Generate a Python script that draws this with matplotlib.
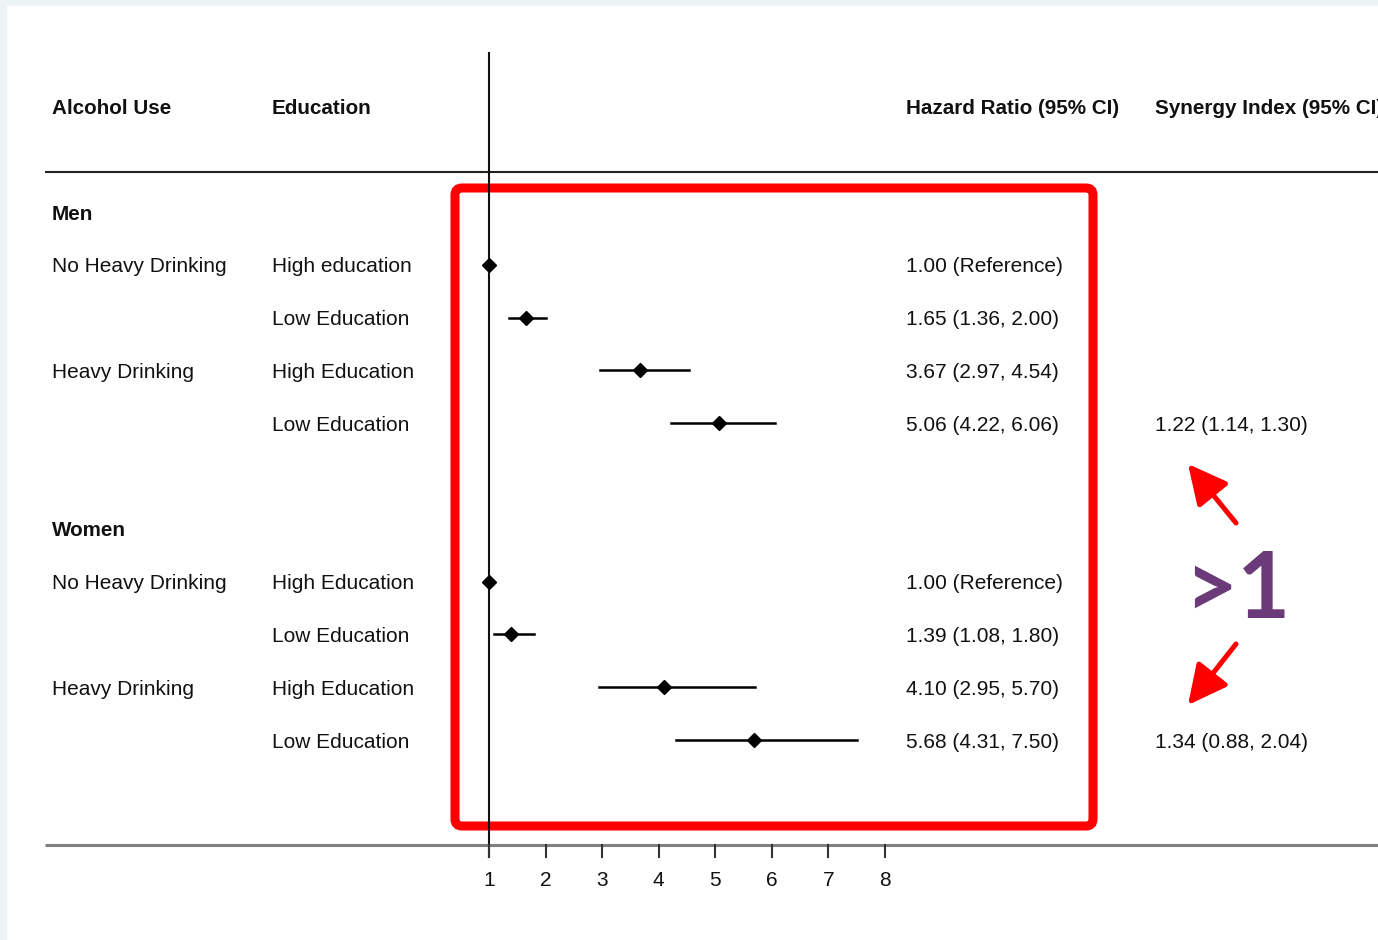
import matplotlib
matplotlib.use("Agg")
import matplotlib.pyplot as plt
import matplotlib.transforms as mtransforms
from matplotlib.patches import FancyBboxPatch, Rectangle, FancyArrowPatch

W, H = 1378, 940

# ---- data ----
groups = ["Men", "Women"]
alcohol_use = ["No Heavy Drinking", "", "Heavy Drinking", ""]
education = [
    ["High education", "Low Education", "High Education", "Low Education"],
    ["High Education", "Low Education", "High Education", "Low Education"],
]
hr = [[1.00, 1.65, 3.67, 5.06], [1.00, 1.39, 4.10, 5.68]]
hr_lo = [[1.00, 1.36, 2.97, 4.22], [1.00, 1.08, 2.95, 4.31]]
hr_hi = [[1.00, 2.00, 4.54, 6.06], [1.00, 1.80, 5.70, 7.50]]
synergy = [(1.22, 1.14, 1.30), (1.34, 0.88, 2.04)]
xticks = [1, 2, 3, 4, 5, 6, 7, 8]

plt.rcParams["font.family"] = ["Liberation Sans", "DejaVu Sans"]
TXT = "#111111"
FS = 15

fig = plt.figure(figsize=(W / 100, H / 100), dpi=100)
fig.set_facecolor("#eef3f3")

# decoration layer in pixel units
deco = fig.add_axes([0, 0, 1, 1])
deco.set_xlim(0, W)
deco.set_ylim(H, 0)
deco.axis("off")
deco.add_patch(Rectangle((7, 6), W, H, facecolor="white", edgecolor="none", zorder=0))

# forest layer: x in hazard-ratio units, y in row units
px_per_unit = (885 - 489) / 7
row0, row_h = 212, 52.8
ax = fig.add_axes([0, 0, 1, 1])
ax.set_xlim(1 - 489 / px_per_unit, 1 + (W - 489) / px_per_unit)
ax.set_ylim((H - row0) / row_h, (0 - row0) / row_h)
ax.axis("off")
ax.patch.set_alpha(0)

# x from the px layer, y from rows
col_tr = mtransforms.blended_transform_factory(deco.transData, ax.transData)
# x from the HR scale, y from the px layer
hr_tr = mtransforms.blended_transform_factory(ax.transData, deco.transData)

# column headers
hdr_row = -2
for x, s in [(52, "Alcohol Use"), (272, "Education"),
             (906, "Hazard Ratio (95% CI)"), (1155, "Synergy Index (95% CI)")]:
    ax.text(x, hdr_row, s, transform=col_tr, fontsize=14.9, fontweight="bold",
            color=TXT, va="center_baseline", ha="left")

# table rules
deco.plot([45, W], [172, 172], color="#222222", lw=1.5, solid_capstyle="butt")
deco.plot([45, W], [845, 845], color="#808080", lw=2.2, solid_capstyle="butt")

# red highlight box
deco.add_patch(FancyBboxPatch((455, 188), 638, 638,
                              boxstyle="round,pad=0,rounding_size=7",
                              facecolor="none", edgecolor="#ff0000", lw=6.5, zorder=2))

# reference line at HR = 1
ax.plot([1, 1], [53, 857], transform=hr_tr, color="#111111", lw=1.5, zorder=3)

# x axis ticks
for t in xticks:
    ax.plot([t, t], [845, 857], transform=hr_tr, color="#333333", lw=1.5, zorder=3)
    ax.text(t, 879, str(t), transform=hr_tr, fontsize=FS, color=TXT,
            ha="center", va="center_baseline")

for g, name in enumerate(groups):
    start = g * 6
    ax.text(52, start, name, transform=col_tr, fontsize=14.9, fontweight="bold",
            color=TXT, va="center_baseline", ha="left")
    for i in range(4):
        r = start + 1 + i
        if alcohol_use[i]:
            ax.text(52, r, alcohol_use[i], transform=col_tr, fontsize=FS,
                    color=TXT, va="center_baseline", ha="left")
        ax.text(272, r, education[g][i], transform=col_tr, fontsize=FS,
                color=TXT, va="center_baseline", ha="left")
        est, lo, hi = hr[g][i], hr_lo[g][i], hr_hi[g][i]
        if lo == hi:
            label = f"{est:.2f} (Reference)"
        else:
            label = f"{est:.2f} ({lo:.2f}, {hi:.2f})"
            ax.plot([lo, hi], [r, r], color="black", lw=1.8, zorder=4)
        ax.plot(est, r, marker="D", ms=7.5, color="black", zorder=5)
        ax.text(906, r, label, transform=col_tr, fontsize=FS, color=TXT,
                va="center_baseline", ha="left")
    si, si_lo, si_hi = synergy[g]
    ax.text(1155, start + 4, f"{si:.2f} ({si_lo:.2f}, {si_hi:.2f})",
            transform=col_tr, fontsize=FS, color=TXT, va="center_baseline", ha="left")

# synergy call-out
deco.text(1237, 618, ">1", fontsize=66, fontweight="bold", color="#6b3a78",
          family=["Lato", "DejaVu Sans"], ha="center", va="baseline")
for tail, head in [((1236, 523), (1188, 464)), ((1236, 644), (1188, 705))]:
    deco.add_patch(FancyArrowPatch(tail, head,
                                   arrowstyle="-|>,head_length=1.0,head_width=0.5",
                                   mutation_scale=24, color="#ff0000", lw=3.6,
                                   shrinkA=0, shrinkB=0))

fig.savefig("out.png", dpi=100)
